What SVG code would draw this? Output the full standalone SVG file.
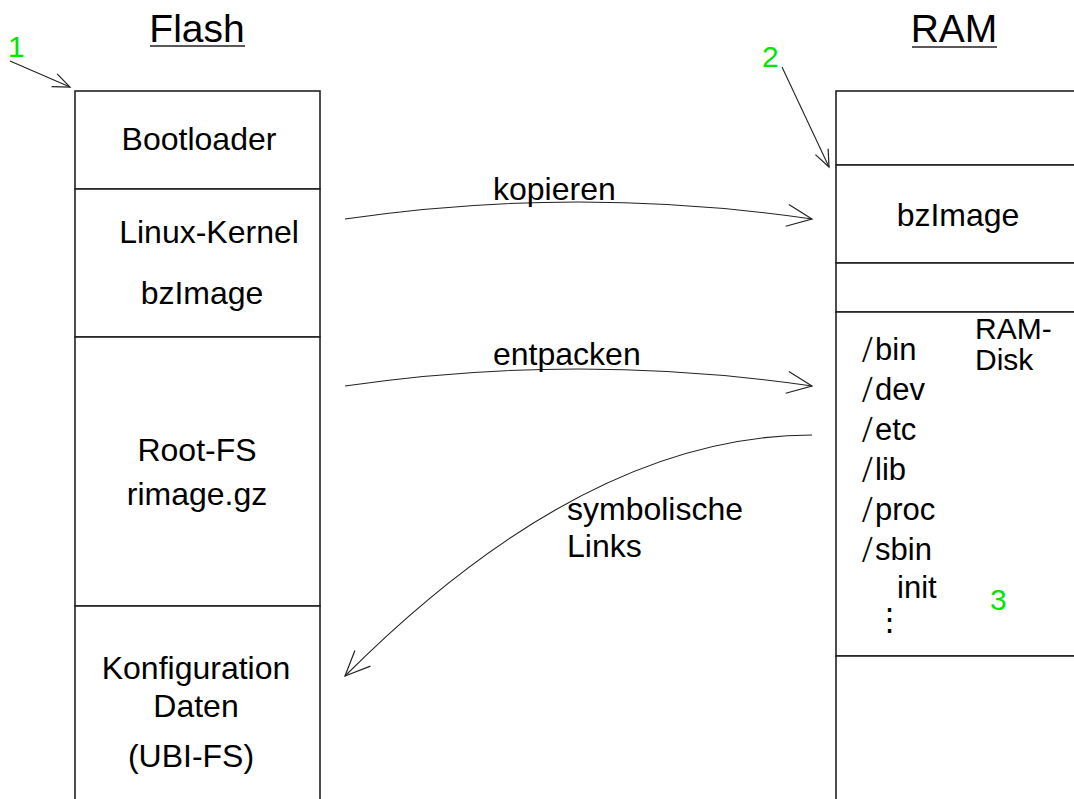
<svg xmlns="http://www.w3.org/2000/svg" width="1074" height="799" viewBox="0 0 1074 799">
<style>
text{font-family:"Liberation Sans",Arial,sans-serif;fill:#000}
.t{font-size:32px;text-anchor:middle}
.h{font-size:39px;text-anchor:middle}
.g{font-size:30px;fill:#00e600}
.d{font-size:32px}
.r{font-size:30px}
.l{font-size:31px}
.sl{font-family:"Liberation Serif","DejaVu Serif",serif;font-size:38px}
.box{fill:#fff;stroke:#222;stroke-width:1.6}
.c{fill:none;stroke:#222;stroke-width:1.1}
</style>
<defs>
<marker id="big" markerUnits="userSpaceOnUse" markerWidth="30" markerHeight="30" viewBox="-28 -15 30 30" refX="0" refY="0" orient="auto">
<path d="M-25,-11 L0,0 L-25,11" fill="none" stroke="#222" stroke-width="1.2"/>
</marker>
<marker id="small" markerUnits="userSpaceOnUse" markerWidth="24" markerHeight="24" viewBox="-20 -12 24 24" refX="0" refY="0" orient="auto">
<path d="M-17,-7 L0,0 L-17,7" fill="none" stroke="#222" stroke-width="1.2"/>
</marker>
</defs>
<rect width="1074" height="799" fill="#fff"/>

<g id="title-flash">
<text class="h" x="197" y="42">Flash</text>
<line x1="150" y1="46" x2="245" y2="46" stroke="#222" stroke-width="1.5"/>
</g>
<g id="title-ram">
<text class="h" x="954" y="42">RAM</text>
<line x1="912" y1="47" x2="997" y2="47" stroke="#222" stroke-width="1.5"/>
</g>

<g id="flash-bootloader">
<rect class="box" x="75" y="91" width="245" height="98"/>
<text class="t" x="199" y="150">Bootloader</text>
</g>
<g id="flash-kernel">
<rect class="box" x="75" y="189" width="245" height="148"/>
<text class="t" x="209" y="243">Linux-Kernel</text>
<text class="t" x="202" y="304">bzImage</text>
</g>
<g id="flash-rootfs">
<rect class="box" x="75" y="337" width="245" height="269"/>
<text class="t" x="197" y="461">Root-FS</text>
<text class="t" x="197" y="505">rimage.gz</text>
</g>
<g id="flash-config">
<rect class="box" x="75" y="606" width="245" height="210"/>
<text class="t" x="196" y="679">Konfiguration</text>
<text class="t" x="196" y="717">Daten</text>
<text class="t" x="191" y="767">(UBI-FS)</text>
</g>

<g id="ram-top">
<rect class="box" x="836" y="91" width="260" height="74"/>
</g>
<g id="ram-bzimage">
<rect class="box" x="836" y="165" width="260" height="98"/>
<text class="t" x="958" y="226">bzImage</text>
</g>
<g id="ram-gap">
<rect class="box" x="836" y="263" width="260" height="49"/>
</g>
<g id="ram-disk">
<rect class="box" x="836" y="312" width="260" height="344"/>
<text class="r" x="975" y="339">RAM-</text>
<text class="r" x="975" y="370">Disk</text>
<text class="sl" x="862" y="362">/</text><text class="l" x="875" y="360">bin</text>
<text class="sl" x="862" y="402">/</text><text class="l" x="875" y="400">dev</text>
<text class="sl" x="862" y="442">/</text><text class="l" x="875" y="440">etc</text>
<text class="sl" x="862" y="482">/</text><text class="l" x="875" y="480">lib</text>
<text class="sl" x="862" y="522">/</text><text class="l" x="875" y="520">proc</text>
<text class="sl" x="862" y="562">/</text><text class="l" x="875" y="560">sbin</text>
<text class="l" x="897" y="598">init</text>
<text class="l" x="874" y="630">⋮</text>
</g>
<g id="ram-bottom">
<rect class="box" x="836" y="656" width="260" height="160"/>
</g>

<g id="labels">
<text class="g" x="8" y="57">1</text>
<text class="g" x="762" y="67">2</text>
<text class="g" x="990" y="610">3</text>
</g>

<g id="connectors">
<line class="c" x1="10" y1="61" x2="70" y2="87" marker-end="url(#small)"/>
<line class="c" x1="782" y1="67" x2="829" y2="167" marker-end="url(#small)"/>
<path class="c" d="M345,219 Q578,185 812,219" marker-end="url(#big)"/>
<text class="d" x="493" y="200">kopieren</text>
<path class="c" d="M345,386 Q578,352 812,386" marker-end="url(#big)"/>
<text class="d" x="493" y="365">entpacken</text>
<path class="c" d="M812,435 Q586,435 345,676" marker-end="url(#big)"/>
<text class="d" x="567" y="520">symbolische</text>
<text class="d" x="567" y="557">Links</text>
</g>
</svg>
